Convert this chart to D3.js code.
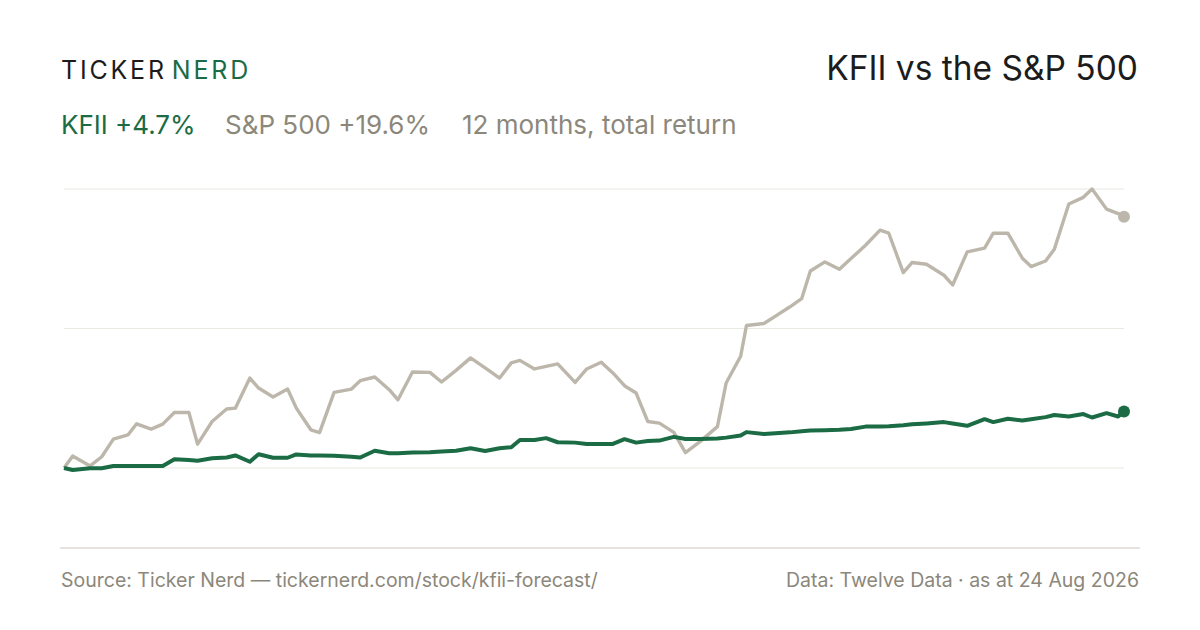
<!DOCTYPE html>
<html>
<head>
<meta charset="utf-8">
<script src="https://cdn.jsdelivr.net/npm/d3@7"></script>
<style>
  html, body { margin: 0; padding: 0; background: #fff; }
  svg { display: block; }
</style>
</head>
<body>
<div id="chart"></div>
<script>
// days since start of the 12-month window (24 Aug 2025)
const days = [0, 3, 9, 13, 17, 22, 25, 30, 34, 38, 43, 46, 51, 56, 59, 64, 67, 72, 77, 80,
  85, 88, 93, 99, 102, 107, 112, 115, 120, 126, 130, 135, 140, 145, 150, 154, 157, 162, 166, 170,
  176, 180, 185, 189, 193, 197, 201, 205, 210, 214, 219, 225, 228, 233, 235, 241, 245, 250, 254, 257,
  262, 267, 271, 276, 281, 284, 289, 292, 297, 303, 306, 311, 317, 320, 325, 330, 333, 338, 341, 346,
  351, 354, 359, 363, 365];

// cumulative total return, %
const spx = [0, 0.94, 0.16, 0.88, 2.25, 2.58, 3.45, 3.03, 3.42, 4.33, 4.33, 1.86, 3.63, 4.6, 4.67, 7.02, 6.24, 5.54, 6.16, 4.67,
  2.98, 2.76, 5.9, 6.16, 6.81, 7.1, 6.11, 5.32, 7.49, 7.46, 6.71, 7.62, 8.59, 7.81, 7.02, 8.2, 8.4, 7.73, 7.93, 8.12,
  6.68, 7.73, 8.25, 7.42, 6.42, 5.85, 3.63, 3.5, 2.78, 1.2, 2.06, 3.23, 6.63, 8.72, 11.12, 11.28, 11.85, 12.58, 13.21, 15.37,
  16.08, 15.5, 16.34, 17.38, 18.56, 18.32, 15.25, 16.03, 15.9, 15.04, 14.28, 16.86, 17.15, 18.32, 18.32, 16.37, 15.72, 16.15, 17.07, 20.6,
  21.12, 21.77, 20.2, 19.85, 19.6];

const kfii = [0, -0.16, -0.02, -0.02, 0.16, 0.16, 0.16, 0.16, 0.16, 0.68, 0.62, 0.57, 0.76, 0.82, 0.98, 0.49, 1.07, 0.8, 0.8, 1.06,
  0.98, 0.97, 0.96, 0.88, 0.82, 1.35, 1.15, 1.15, 1.21, 1.23, 1.28, 1.35, 1.54, 1.33, 1.54, 1.62, 2.19, 2.19, 2.33, 2.01,
  1.98, 1.88, 1.88, 1.88, 2.25, 1.98, 2.11, 2.14, 2.43, 2.27, 2.27, 2.31, 2.37, 2.53, 2.8, 2.66, 2.72, 2.78, 2.86, 2.92,
  2.94, 2.98, 3.05, 3.23, 3.23, 3.25, 3.33, 3.41, 3.48, 3.58, 3.48, 3.29, 3.81, 3.58, 3.84, 3.7, 3.8, 3.97, 4.13, 4.02,
  4.21, 3.94, 4.28, 4.02, 4.41];

const brand = ["TICKER", "NERD"];
const title = "KFII vs the S&P 500";
const legend = ["KFII +4.7%", "S&P 500 +19.6%", "12 months, total return"];
const footer = ["Source: Ticker Nerd \u2014 tickernerd.com/stock/kfii-forecast/", "Data: Twelve Data \u00b7 as at 24 Aug 2026"];

const W = 1200, H = 630;
const GREEN = "#1b6b45", SAND = "#bdb7ab", GREY = "#8c877b", INK = "#1c1c1c";
const FONT = "Inter, 'Noto Sans', sans-serif";

const svg = d3.select("#chart").append("svg")
  .attr("width", W).attr("height", H)
  .attr("viewBox", `0 0 ${W} ${H}`)
  .style("font-family", FONT);

svg.append("rect").attr("width", W).attr("height", H).attr("fill", "#fff");

// header
const logo = svg.append("text").attr("x", 61).attr("y", 79)
  .style("font-size", "25px").style("letter-spacing", "2.8px");
logo.append("tspan").attr("fill", INK).text(brand[0]);
logo.append("tspan").attr("fill", GREEN).attr("dx", 5).text(brand[1]);

svg.append("text").attr("x", 1138).attr("y", 80)
  .attr("text-anchor", "end").attr("fill", INK)
  .style("font-size", "33.5px").text(title);

const sub = svg.append("g").style("font-size", "26px");
sub.append("text").attr("x", 61).attr("y", 134).attr("fill", GREEN).text(legend[0]);
sub.append("text").attr("x", 225).attr("y", 134).attr("fill", GREY).text(legend[1]);
sub.append("text").attr("x", 462).attr("y", 134).attr("fill", GREY).text(legend[2]);

// scales
const x = d3.scaleLinear().domain([0, d3.max(days)]).range([64, 1124]);
const yMax = d3.max(spx);
const y = d3.scaleLinear().domain([0, yMax]).range([468, 189]);

// gridlines at start, midpoint and peak
const grid = [0, yMax / 2, yMax];
svg.append("g").selectAll("line").data(grid).join("line")
  .attr("x1", 64).attr("x2", 1124)
  .attr("y1", d => y(d)).attr("y2", d => y(d))
  .attr("stroke", "#ebe8e2").attr("stroke-width", 1.2);

// base rule
svg.append("line").attr("x1", 60).attr("x2", 1140).attr("y1", 548).attr("y2", 548)
  .attr("stroke", "#dedad0").attr("stroke-width", 1.5);

const line = d3.line().x((d, i) => x(days[i])).y(d => y(d));

svg.append("path").datum(spx).attr("d", line)
  .attr("fill", "none").attr("stroke", SAND).attr("stroke-width", 3.4)
  .attr("stroke-linejoin", "round");
svg.append("path").datum(kfii).attr("d", line)
  .attr("fill", "none").attr("stroke", GREEN).attr("stroke-width", 4)
  .attr("stroke-linejoin", "round");

const last = days.length - 1;
svg.append("circle").attr("cx", x(days[last])).attr("cy", y(spx[last])).attr("r", 6).attr("fill", SAND);
svg.append("circle").attr("cx", x(days[last])).attr("cy", y(kfii[last])).attr("r", 6).attr("fill", GREEN);

// footer
svg.append("text").attr("x", 61).attr("y", 587).attr("fill", GREY)
  .style("font-size", "19.5px").text(footer[0]);
svg.append("text").attr("x", 1139).attr("y", 587).attr("fill", GREY)
  .attr("text-anchor", "end").style("font-size", "19.5px").text(footer[1]);
</script>
</body>
</html>
